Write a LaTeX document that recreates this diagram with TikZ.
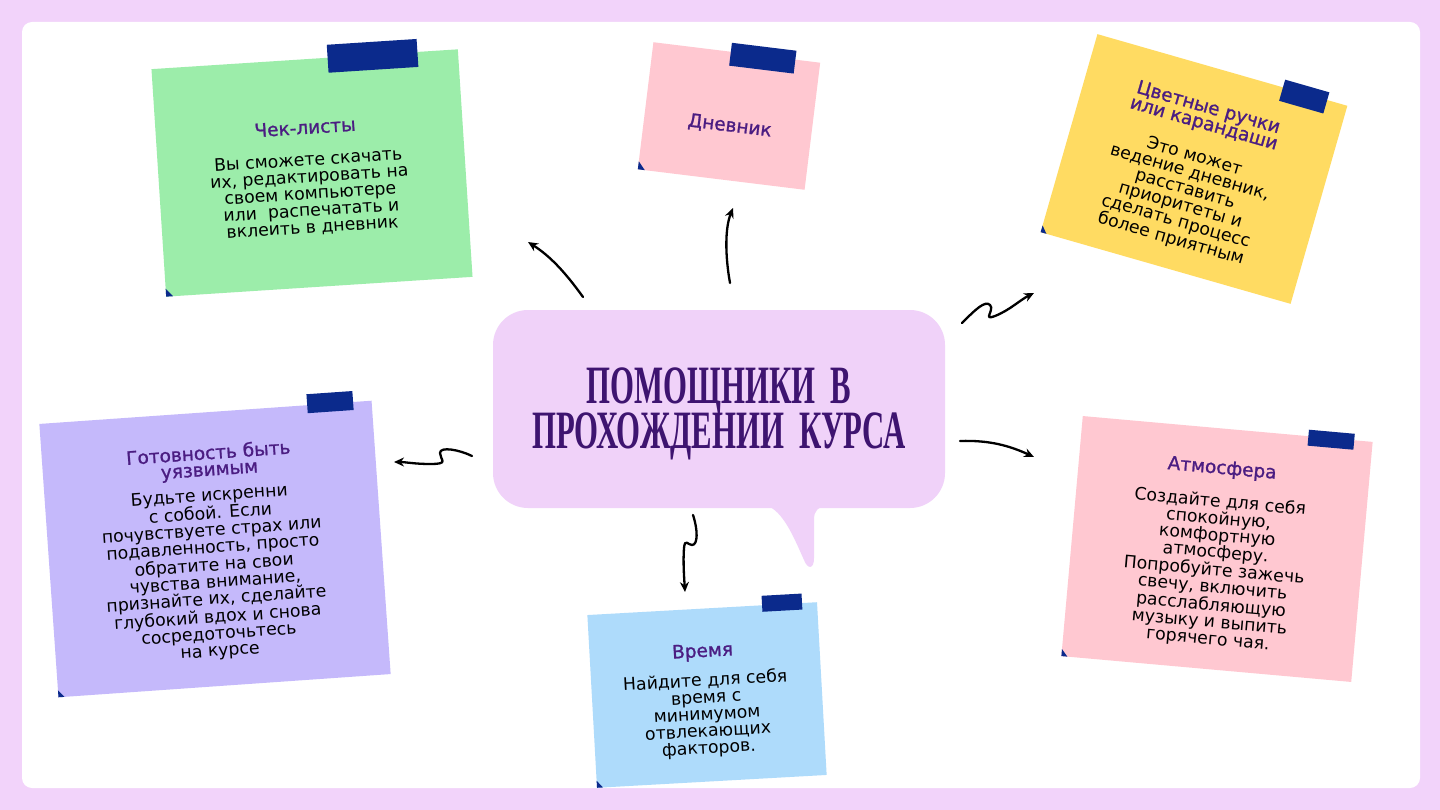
\documentclass[tikz,border=0pt]{standalone}
\usepackage{fontspec}
\setmainfont{DejaVu Sans}
\newfontfamily\titlefont{Liberation Serif}
\newfontfamily\semibold[FakeBold=1.2]{DejaVu Sans}
\usetikzlibrary{arrows.meta}
\definecolor{bgl}{HTML}{F2D3FA}
\definecolor{bubble}{HTML}{F0D2F9}
\definecolor{titlec}{HTML}{3E1470}
\definecolor{ntitlec}{HTML}{4B1D82}
\definecolor{ngreen}{HTML}{9CEDAA}
\definecolor{npink}{HTML}{FFC8D1}
\definecolor{nyellow}{HTML}{FFDB62}
\definecolor{nlav}{HTML}{C5B9FB}
\definecolor{nblue}{HTML}{AEDBFB}
\definecolor{tapec}{HTML}{0B2A8C}
\tikzset{
  notebox/.style={inner sep=0pt, outer sep=0pt, draw=none},
  tape/.style={fill=tapec},
  curl/.style={fill=tapec},
  ntitle/.style={inner sep=0pt, align=center, text=ntitlec, font=\semibold\fontsize{18.5}{16.5}\selectfont},
  nbody/.style={inner sep=0pt, align=center, text=black, font=\fontsize{17.3}{16.9}\selectfont},
  conn/.style={draw=black, line width=2.3pt, line cap=round, -{Stealth[length=10pt,width=9pt]}},
  bigtitle/.style={inner sep=0pt, anchor=base, text=titlec, font=\titlefont\bfseries\fontsize{54}{54}\selectfont}
}
\begin{document}
\begin{tikzpicture}[x=1pt,y=-1pt]
\useasboundingbox (0,0) rectangle (1440,810);
\fill[bgl] (0,0) rectangle (1440,810);
\fill[white, rounded corners=10pt] (22,22) rectangle (1420,788);

% central speech bubble
\fill[bubble, rounded corners=35pt] (493,310) rectangle (945,508);
\fill[bubble] (765,500) -- (770,507) .. controls (785,515) and (795,540) .. (804,560)
  .. controls (808,570) and (814,569) .. (814,558) -- (814,520) .. controls (814,510) and (818,507) .. (828,506) -- (828,500) -- cycle;
\node[bigtitle] (title1) at (719,403) {\scalebox{0.57}[1]{ПОМОЩНИКИ\ \ В}};
\node[bigtitle] (title2) at (719,448) {\scalebox{0.57}[1]{ПРОХОЖДЕНИИ\ \ КУРСА}};

% green note
\node[notebox, fill=ngreen, minimum width=307pt, minimum height=228pt, rotate=3.7] (check) at (312,173) {};
\begin{scope}[shift={(check.center)}, rotate=3.7, transform shape]
  \fill[tape] (23,-127) rectangle (113,-99);
  \fill[curl] (-153.5,114) -- ++(0,-8) -- ++(7,8) -- cycle;
  \node[ntitle] (checkT) at (-4,-46) {Чек-листы};
  \node[nbody] (checkB) at (-3,21) {Вы сможете скачать\\их, редактировать на\\своем компьютере\\или\ \ распечатать и\\вклеить в дневник};
\end{scope}

% pink diary note
\node[notebox, fill=npink, minimum width=168pt, minimum height=128pt, rotate=-7] (diary) at (729,116) {};
\begin{scope}[shift={(diary.center)}, rotate=-7, transform shape]
  \fill[tape] (-6,-73) rectangle (59,-50);
  \fill[curl] (-84,64) -- ++(0,-8) -- ++(7,8) -- cycle;
  \node[ntitle] (diaryT) at (2,10) {Дневник};
\end{scope}

% yellow note
\node[notebox, fill=nyellow, minimum width=260pt, minimum height=206pt, rotate=-16] (pens) at (1194,169) {};
\begin{scope}[shift={(pens.center)}, rotate=-16, transform shape]
  \fill[tape] (63,-111) rectangle (109,-89);
  \fill[curl] (-130,103) -- ++(0,-7) -- ++(6,7) -- cycle;
  \node[ntitle] (pensT) at (-3,-54) {Цветные ручки\\или карандаши};
  \node[nbody] (pensB) at (-3,31) {Это может\\ведение дневник,\\расставить\\приоритеты и\\сделать процесс\\более приятным};
\end{scope}

% lavender note
\node[notebox, fill=nlav, minimum width=333pt, minimum height=274pt, rotate=4] (vuln) at (215,549) {};
\begin{scope}[shift={(vuln.center)}, rotate=4, transform shape]
  \fill[tape] (102,-148) rectangle (148,-129);
  \fill[curl] (-166.5,137) -- ++(0,-7) -- ++(6,7) -- cycle;
  \node[ntitle] (vulnT) at (0,-87) {Готовность быть\\уязвимым};
  \node[nbody] (vulnB) at (-2,25) {Будьте искренни\\с собой. Если\\почувствуете страх или\\подавленность, просто\\обратите на свои\\чувства внимание,\\признайте их, сделайте\\глубокий вдох и снова\\сосредоточьтесь\\на курсе};
\end{scope}

% blue note
\node[notebox, fill=nblue, minimum width=230pt, minimum height=173pt, rotate=3.2] (time) at (707,695) {};
\begin{scope}[shift={(time.center)}, rotate=3.2, transform shape]
  \fill[tape] (60,-96) rectangle (100,-80);
  \fill[curl] (-115,86.5) -- ++(0,-7) -- ++(6,7) -- cycle;
  \node[ntitle] (timeT) at (-2,-43) {Время};
  \node[nbody] (timeB) at (-1,20) {Найдите для себя\\время с\\минимумом\\отвлекающих\\факторов.};
\end{scope}

% pink atmosphere note
\node[notebox, fill=npink, minimum width=291pt, minimum height=241pt, rotate=-5.1] (atm) at (1217,549) {};
\begin{scope}[shift={(atm.center)}, rotate=-5.1, transform shape]
  \fill[tape] (81,-127) rectangle (127,-111);
  \fill[curl] (-145.5,120.5) -- ++(0,-7) -- ++(6,7) -- cycle;
  \node[ntitle] (atmT) at (-2,-80) {Атмосфера};
  \node[nbody] (atmB) at (-1,22) {Создайте для себя\\спокойную,\\комфортную\\атмосферу.\\Попробуйте зажечь\\свечу, включить\\расслабляющую\\музыку и выпить\\горячего чая.};
\end{scope}

% connectors
\coordinate (a1s) at (583,297); \coordinate (a1e) at (528,242);
\draw[conn] (a1s) .. controls (565,272) and (550,256) .. (a1e);
\coordinate (a2s) at (730,283); \coordinate (a2e) at (733,208);
\draw[conn] (a2s) .. controls (725,255) and (725,228) .. (a2e);
\coordinate (a3s) at (962,323); \coordinate (a3e) at (1034,293);
\draw[conn] (a3s) .. controls (975,310) and (985,300) .. (990,305)
  .. controls (995,310) and (982,321) .. (995,316) .. controls (1010,310) and (1020,300) .. (a3e);
\coordinate (a4s) at (960,441); \coordinate (a4e) at (1034,457);
\draw[conn] (a4s) .. controls (990,440) and (1010,446) .. (a4e);
\coordinate (a5s) at (472,456); \coordinate (a5e) at (394,462);
\draw[conn] (a5s) .. controls (460,450) and (440,446) .. (440,453)
  .. controls (440,460) and (450,464) .. (430,464) .. controls (415,464) and (405,462) .. (a5e);
\coordinate (a6s) at (693,515); \coordinate (a6e) at (685,592);
\draw[conn] (a6s) .. controls (698,530) and (698,545) .. (692,545)
  .. controls (688,545) and (685,538) .. (684,548) .. controls (683,562) and (684,575) .. (a6e);
\end{tikzpicture}
\end{document}
